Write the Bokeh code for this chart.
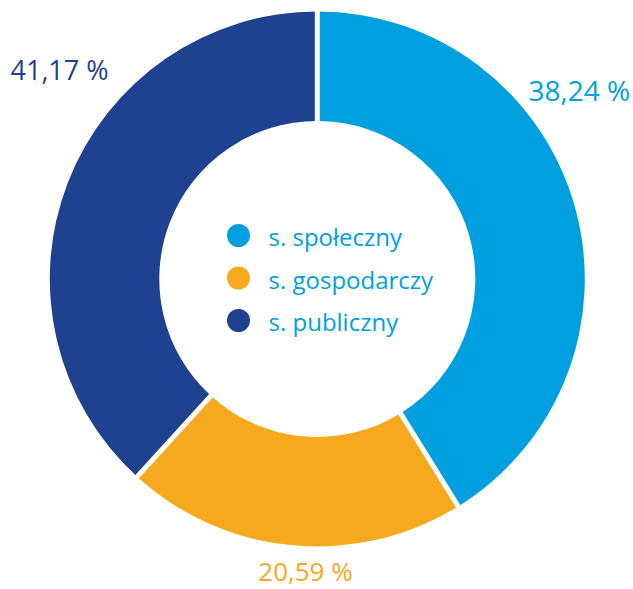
import math
from bokeh.plotting import figure
from bokeh.models import Range1d, ColumnDataSource
from bokeh.core.properties import value
from bokeh.embed import file_html
from bokeh.resources import INLINE

# ---- data ----
sectors = ["s. społeczny", "s. gospodarczy", "s. publiczny"]
slice_values = [41.17, 20.59, 38.24]          # shares as drawn
slice_labels = ["38,24 %", "20,59 %", "41,17 %"]  # labels as printed
colors = ["#009FDF", "#F6A81E", "#1E4290"]

W, H = 633, 589
cx_img, cy_img = 316.8, 278.5
x0 = -cx_img
y1 = cy_img

p = figure(width=W, height=H, output_backend="svg", toolbar_location=None,
           x_range=Range1d(x0, x0 + W), y_range=Range1d(y1 - H, y1),
           min_border=0, outline_line_color=None)
p.axis.visible = False
p.grid.visible = False
p.background_fill_color = "white"

total = sum(slice_values)
starts, ends = [], []
cum = 0.0
for v in slice_values:
    starts.append(math.pi / 2 - 2 * math.pi * cum / total)
    cum += v
    ends.append(math.pi / 2 - 2 * math.pi * cum / total)

src = ColumnDataSource(dict(x=[0] * 3, y=[0] * 3, start=starts, end=ends, color=colors))
R_IN, R_OUT = 158, 267.5
p.annular_wedge(x="x", y="y", inner_radius=R_IN, outer_radius=R_OUT,
                start_angle="start", end_angle="end", direction="clock",
                fill_color="color", line_color=None, source=src)

# white separating gaps
gx0, gy0, gx1, gy1 = [], [], [], []
for a in starts:
    gx0.append((R_IN - 5) * math.cos(a)); gy0.append((R_IN - 5) * math.sin(a))
    gx1.append((R_OUT + 5) * math.cos(a)); gy1.append((R_OUT + 5) * math.sin(a))
p.segment(x0=gx0, y0=gy0, x1=gx1, y1=gy1, line_color="white", line_width=5)

# percentage labels (image coords -> data)
def dx(ix): return ix - cx_img
def dy(iy): return cy_img - iy

font = value("Open Sans")
p.text(x=[dx(528)], y=[dy(89.5)], text=[slice_labels[0]], text_color=colors[0],
       text_font=font, text_font_size="28px", text_align="left", text_baseline="middle")
p.text(x=[dx(305)], y=[dy(570)], text=[slice_labels[1]], text_color=colors[1],
       text_font=font, text_font_size="26px", text_align="center", text_baseline="middle")
p.text(x=[dx(10)], y=[dy(69)], text=[slice_labels[2]], text_color=colors[2],
       text_font=font, text_font_size="27px", text_align="left", text_baseline="middle")

# legend in the hole
leg_y_img = [235, 277.5, 320]
p.scatter(x=[dx(238)] * 3, y=[dy(v) for v in leg_y_img], size=23,
          fill_color=colors, line_color=None, marker="circle")
p.text(x=[dx(268)] * 3, y=[dy(v + 1) for v in leg_y_img], text=sectors,
       text_color=colors[0], text_font=font, text_font_size="24px",
       text_align="left", text_baseline="middle")

open("out.html", "w").write(file_html(p, INLINE))
